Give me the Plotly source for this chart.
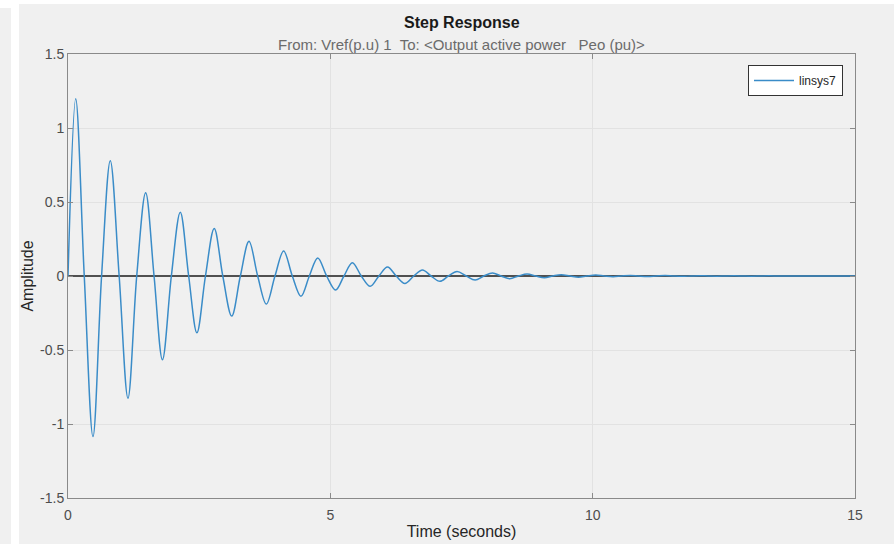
import plotly.graph_objects as go

# ---- data ----
time_s = [0.0, 0.147, 0.31, 0.476, 0.64, 0.806, 0.975, 1.143, 1.31, 1.48, 1.64, 1.80,
          1.97, 2.14, 2.30, 2.457, 2.62, 2.787, 2.95, 3.12, 3.285, 3.45, 3.615, 3.78,
          3.945, 4.11, 4.275, 4.44, 4.60, 4.76, 4.93, 5.10, 5.26, 5.42, 5.59, 5.76,
          5.925, 6.09, 6.255, 6.42, 6.59, 6.756, 6.92, 7.09, 7.25, 7.415, 7.59, 7.76,
          7.925, 8.09, 8.255, 8.42, 8.585, 8.75, 8.915, 9.08, 9.24, 9.40, 9.57, 9.73,
          9.89, 10.06, 10.22, 10.39, 10.55, 10.72, 10.88, 11.05, 11.21, 11.38, 11.54,
          11.71, 11.87, 12.04, 12.20, 12.37, 12.53, 12.70, 12.86, 13.03, 13.19, 13.36,
          13.52, 13.69, 13.85, 14.02, 14.35, 15.0]
amplitude = [0.0, 1.197, 0.0, -1.085, 0.0, 0.779, 0.0, -0.826, 0.0, 0.562, 0.0, -0.566,
             0.0, 0.431, 0.0, -0.384, 0.0, 0.321, 0.0, -0.271, 0.0, 0.235, 0.0, -0.19,
             0.0, 0.169, 0.0, -0.137, 0.0, 0.122, 0.0, -0.095, 0.0, 0.09, 0.0, -0.07,
             0.0, 0.061, 0.0, -0.05, 0.0, 0.041, 0.0, -0.036, 0.0, 0.03, 0.0, -0.027,
             0.0, 0.02, 0.0, -0.018, 0.0, 0.013, 0.0, -0.012, 0.0, 0.009, 0.0, -0.008,
             0.0, 0.006, 0.0, -0.005, 0.0, 0.004, 0.0, -0.003, 0.0, 0.003, 0.0,
             -0.002, 0.0, 0.002, 0.0, -0.0015, 0.0, 0.001, 0.0, -0.001, 0.0, 0.001,
             0.0, -0.0005, 0.0, 0.0005, 0.0, 0.0]

x_ticks = [0, 5, 10, 15]
x_tick_labels = ["0", "5", "10", "15"]
y_ticks = [-1.5, -1, -0.5, 0, 0.5, 1, 1.5]
y_tick_labels = ["-1.5", "-1", "-0.5", "0", "0.5", "1", "1.5"]

series_name = "linsys7"
title_text = "Step Response"
subtitle_text = "From: Vref(p.u) 1  To: &lt;Output active power   Peo (pu)&gt;"

# ---- layout geometry (pixels) ----
W, H = 894, 544
L, R, T, B = 68, 855, 54, 498
pw, ph = R - L, B - T

def px_x(p):
    return (p - L) / pw

def px_y(p):
    return (B - p) / ph

FONT = "Liberation Sans, Arial, sans-serif"

fig = go.Figure()
fig.add_trace(go.Scatter(
    x=time_s, y=amplitude, mode="lines", name=series_name,
    line=dict(color="#3a8cc8", width=1.5, shape="spline", smoothing=1.0),
))

axis_common = dict(
    showline=True, linecolor="#8a8a8a", linewidth=1, mirror="ticks",
    ticks="inside", ticklen=5, tickcolor="#8a8a8a",
    showgrid=True, gridcolor="#e2e2e2", gridwidth=1,
    tickfont=dict(family=FONT, size=14, color="#4d4d4d"),
    automargin=False,
)

fig.update_layout(
    width=W, height=H,
    margin=dict(l=L, r=W - R, t=T, b=H - B),
    paper_bgcolor="white", plot_bgcolor="white",
    showlegend=True,
    legend=dict(
        x=px_x(843), y=px_y(65), xanchor="right", yanchor="top",
        bgcolor="white", bordercolor="#333333", borderwidth=1,
        font=dict(family=FONT, size=12, color="#262626"),
        itemwidth=40, tracegroupgap=0,
    ),
    xaxis=dict(
        range=[0, 15], tickvals=x_ticks, ticktext=x_tick_labels,
        zeroline=False, ticklabelstandoff=4,
        title=dict(text="Time (seconds)", font=dict(family=FONT, size=16, color="#262626"), standoff=4),
        **axis_common,
    ),
    yaxis=dict(
        range=[-1.5, 1.5], tickvals=y_ticks, ticktext=y_tick_labels,
        zeroline=True, zerolinecolor="#505050", zerolinewidth=1.5,
        title=dict(text="Amplitude", font=dict(family=FONT, size=16, color="#262626"), standoff=2),
        **axis_common,
    ),
    shapes=[
        dict(type="rect", xref="paper", yref="paper", layer="below",
             x0=px_x(0), x1=px_x(11), y0=px_y(544), y1=px_y(8),
             fillcolor="#f0f0f0", line=dict(width=0)),
        dict(type="rect", xref="paper", yref="paper", layer="below",
             x0=px_x(19), x1=px_x(894), y0=px_y(544), y1=px_y(4),
             fillcolor="#f0f0f0", line=dict(width=0)),
    ],
    annotations=[
        dict(text="<b>" + title_text + "</b>", xref="paper", yref="paper",
             x=0.5, y=px_y(22), showarrow=False, xanchor="center", yanchor="middle",
             font=dict(family=FONT, size=16, color="#1a1a1a")),
        dict(text=subtitle_text, xref="paper", yref="paper",
             x=0.5, y=px_y(44), showarrow=False, xanchor="center", yanchor="middle",
             font=dict(family=FONT, size=15, color="#6b6b6b")),
    ],
)

fig.write_html("out.html")
